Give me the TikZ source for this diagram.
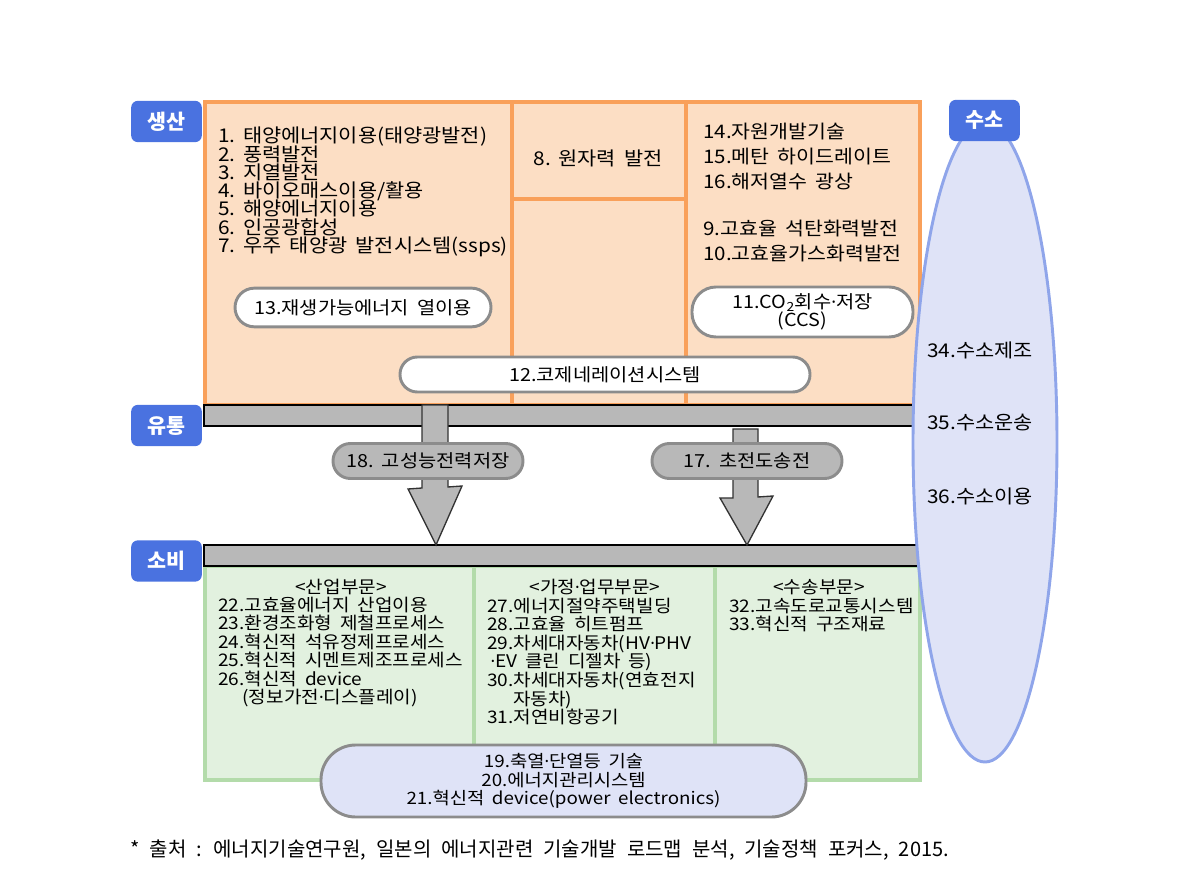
\documentclass[tikz,border=0pt]{standalone}
\usepackage{fontspec}
\setmainfont{Noto Sans CJK KR}[WordSpace=1.8]
\newfontfamily\widefont{Noto Sans CJK KR}[FakeStretch=1.1, WordSpace=1.8]
\newfontfamily\dotfont{Noto Sans}
\newcommand\md{{\dotfont ·}}
\usetikzlibrary{shapes.geometric}
\lineskiplimit=-20pt
\definecolor{orfill}{HTML}{FCDEC4}
\definecolor{orline}{HTML}{F9A05A}
\definecolor{grfill}{HTML}{E2F1DF}
\definecolor{grline}{HTML}{B3DBAA}
\definecolor{labblue}{HTML}{4A72E0}
\definecolor{elfill}{HTML}{DFE3F7}
\definecolor{elline}{HTML}{8FA5EA}
\definecolor{bargray}{HTML}{B8B8B8}
\definecolor{pillgray}{HTML}{8C8C8C}
\definecolor{arrline}{HTML}{333333}
\tikzset{
  lab/.style={fill=labblue, rounded corners=5pt, text=white, inner sep=0pt,
    minimum width=53pt, minimum height=31pt,
    font=\bfseries\fontsize{15.5}{16}\selectfont},
  pill/.style={draw=pillgray, line width=2.2pt, fill=white, inner sep=0pt, align=center,
    font=\widefont\fontsize{13.5}{14}\selectfont},
  graypill/.style={pill, fill=bargray},
  bar/.style={fill=bargray, draw=black, line width=1.5pt},
  blockarrow/.style={fill=bargray, draw=arrline, line width=1pt, line join=miter},
  txt/.style={inner sep=0pt, align=left, font=\widefont\fontsize{14.2}{13.7}\selectfont},
  ctxt/.style={inner sep=0pt, align=left, font=\widefont\fontsize{13}{13.9}\selectfont},
  region/.style={line width=2.4pt},
}
\begin{document}
\begin{tikzpicture}[x=0.75pt,y=-0.75pt]
\useasboundingbox (0,0) rectangle (1192,887);

% production region
\draw[region, draw=orline, fill=orfill] (205,102) rectangle (920,405);
\draw[region, draw=orline] (512,102) -- (512,405);
\draw[region, draw=orline] (686,102) -- (686,405);
\draw[region, draw=orline] (512,199) -- (686,199);

% consumption region
\draw[region, draw=grline, fill=grfill] (205,566) rectangle (920,780);
\draw[region, draw=grline] (474,566) -- (474,780);
\draw[region, draw=grline] (715,566) -- (715,780);

% bars
\draw[bar] (204,405) rectangle (965,426);
\draw[bar] (204,545) rectangle (965,566);

% block arrows
\draw[blockarrow] (422,405) -- (448,405) -- (448,487) -- (462,486) -- (436,545) -- (408,489) -- (422,488) -- cycle;
\draw[blockarrow] (733,429) -- (758,429) -- (758,497) -- (773,496) -- (747,545) -- (720,498) -- (733,498) -- cycle;

% pills
\node[pill, minimum width=192pt, minimum height=29pt, rounded corners=14.5pt] (p13) at (363,307.5) {13.재생가능에너지 열이용};
\node[pill, minimum width=165.75pt, minimum height=37.5pt, rounded corners=18pt,
      font=\widefont\fontsize{13.5}{13.5}\selectfont] (p11) at (802.5,312) {11.CO\textsubscript{2}회수\md 저장\\(CCS)};
\node[pill, minimum width=307.5pt, minimum height=26.25pt, rounded corners=13pt] (p12) at (605,374.5) {12.코제네레이션시스템};
\node[graypill, minimum width=142.5pt, minimum height=26.25pt, rounded corners=13pt] (p18) at (428,461) {18.\ 고성능전력저장};
\node[graypill, minimum width=142.5pt, minimum height=26.25pt, rounded corners=13pt] (p17) at (747,461) {17.\ 초전도송전};
\node[pill, fill=elfill, minimum width=363.75pt, minimum height=54pt, rounded corners=26pt,
      font=\widefont\fontsize{12.8}{13.9}\selectfont] (p19) at (563.5,781)
  {19.축열\md 단열등 기술\\20.에너지관리시스템\\21.혁신적 device(power electronics)};

% hydrogen ellipse
\node[ellipse, draw=elline, fill=elfill, line width=2.2pt, inner sep=0pt,
      minimum width=108pt, minimum height=480pt] (h2) at (985,442) {};
\node[txt] (h34) at (980,350) {34.수소제조};
\node[txt] (h35) at (980,423) {35.수소운송};
\node[txt] (h36) at (980,496) {36.수소이용};

% labels
\node[lab] (lprod) at (166.5,121.5) {생산};
\node[lab] (ldist) at (166.5,425.5) {유통};
\node[lab] (lcons) at (166.5,561) {소비};
\node[lab] (lh2) at (984.5,120.5) {수소};

% production texts
\node[txt, anchor=west] (plist) at (218,192)
  {1.\hspace{0.4em}태양에너지이용(태양광발전)\\2.\hspace{0.4em}풍력발전\\3.\hspace{0.4em}지열발전\\4.\hspace{0.4em}바이오매스이용/활용\\5.\hspace{0.4em}해양에너지이용\\6.\hspace{0.4em}인공광합성\\7.\hspace{0.4em}우주 태양광 발전시스템(ssps)};
\node[txt] (p8) at (598,158) {8.\hspace{0.4em}원자력 발전};
\node[txt, anchor=west, font=\widefont\fontsize{14}{18.4}\selectfont] (p14) at (703,156.5)
  {14.자원개발기술\\15.메탄 하이드레이트\\16.해저열수 광상};
\node[txt, anchor=west, font=\widefont\fontsize{14}{18.4}\selectfont] (p9) at (703,241)
  {9.고효율 석탄화력발전\\10.고효율가스화력발전};

% consumption texts
\node[ctxt] (t1) at (341,587) {<산업부문>};
\node[ctxt, anchor=west] (c1) at (218,652)
  {22.고효율에너지 산업이용\\23.환경조화형 제철프로세스\\24.혁신적 석유정제프로세스\\25.혁신적 시멘트제조프로세스\\26.혁신적 device\\\hspace*{1.4em}(정보가전\md 디스플레이)};
\node[ctxt] (t2) at (595,587) {<가정\md 업무부문>};
\node[ctxt, anchor=west] (c2) at (487,661.5)
  {27.에너지절약주택빌딩\\28.고효율 히트펌프\\29.차세대자동차(HV\md PHV\\\hspace*{0.2em}\md EV 클린 디젤차 등)\\30.차세대자동차(연효전지\\\hspace*{1.5em}자동차)\\31.저연비항공기};
\node[ctxt] (t3) at (819,587) {<수송부문>};
\node[ctxt, anchor=west] (c3) at (729,615)
  {32.고속도로교통시스템\\33.혁신적 구조재료};

% footnote
\node[inner sep=0pt, anchor=west, font=\fontsize{15}{16}\selectfont] (src) at (130,850)
  {\spaceskip=0.5em\relax * 출처 : 에너지기술연구원, 일본의 에너지관련 기술개발 로드맵 분석, 기술정책 포커스, 2015.};
\end{tikzpicture}
\end{document}
